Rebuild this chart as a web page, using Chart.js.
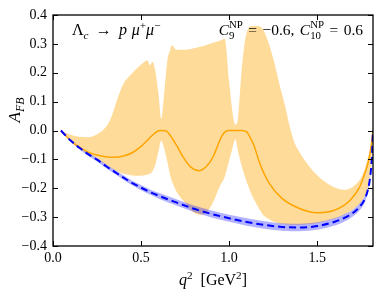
<!DOCTYPE html>
<html lang="en">
  <head>
    <meta charset="UTF-8" />
    <title>A_FB Lambda_c</title>
    <script src="https://cdn.jsdelivr.net/npm/chart.js"></script>
    <style>
      body { margin: 0; background: #fff; }
    </style>
  </head>
  <body>
    <canvas id="afbChart" width="382" height="297"></canvas>

    <script>
      // SM curve (blue, dashed) with its thin uncertainty band
      const qBlue = [0.045, 0.1, 0.15, 0.2, 0.25, 0.3, 0.35, 0.4, 0.45, 0.5, 0.55, 0.6, 0.7, 0.8, 0.9, 1.0, 1.1, 1.2, 1.3, 1.4, 1.5, 1.6, 1.65, 1.7, 1.74, 1.77, 1.79, 1.8, 1.81, 1.817];
      const blueCentral = [0, -0.035, -0.06, -0.082, -0.101, -0.123, -0.143, -0.163, -0.182, -0.198, -0.213, -0.226, -0.249, -0.271, -0.289, -0.304, -0.317, -0.327, -0.334, -0.336, -0.331, -0.316, -0.304, -0.287, -0.265, -0.238, -0.2, -0.165, -0.1, 0];
      const blueUpper = [0, -0.031, -0.055, -0.076, -0.095, -0.116, -0.136, -0.155, -0.174, -0.189, -0.204, -0.216, -0.238, -0.26, -0.277, -0.292, -0.304, -0.314, -0.321, -0.323, -0.318, -0.303, -0.291, -0.275, -0.253, -0.227, -0.19, -0.156, -0.094, 0];
      const blueLower = [0, -0.039, -0.065, -0.088, -0.107, -0.13, -0.15, -0.171, -0.19, -0.207, -0.222, -0.236, -0.26, -0.282, -0.301, -0.316, -0.33, -0.34, -0.347, -0.349, -0.344, -0.329, -0.317, -0.299, -0.277, -0.249, -0.21, -0.174, -0.106, 0];

      // NP curve (orange) and its wide band
      const qOrange = [0.045, 0.1, 0.15, 0.2, 0.25, 0.3, 0.35, 0.4, 0.45, 0.5, 0.55, 0.58, 0.6, 0.615, 0.64, 0.66, 0.7, 0.74, 0.78, 0.83, 0.87, 0.91, 0.94, 0.96, 0.98, 1.0, 1.035, 1.07, 1.1, 1.12, 1.14, 1.175, 1.23, 1.3, 1.4, 1.5, 1.59, 1.65, 1.69, 1.74, 1.77, 1.79, 1.805, 1.817];
      const orangeCentral = [0, -0.035, -0.058, -0.075, -0.085, -0.091, -0.093, -0.088, -0.077, -0.055, -0.025, -0.008, -0.001, 0, -0.001, -0.012, -0.05, -0.093, -0.125, -0.139, -0.125, -0.09, -0.045, -0.018, -0.003, 0, 0, 0, -0.005, -0.025, -0.05, -0.115, -0.185, -0.235, -0.27, -0.285, -0.278, -0.26, -0.24, -0.197, -0.15, -0.11, -0.06, 0];

      const qBand = [0.045, 0.1, 0.15, 0.2, 0.25, 0.3, 0.33, 0.36, 0.4, 0.44, 0.48, 0.52, 0.535, 0.55, 0.565, 0.58, 0.6, 0.615, 0.63, 0.65, 0.665, 0.675, 0.7, 0.75, 0.8, 0.85, 0.9, 0.95, 0.975, 1.0, 1.02, 1.035, 1.05, 1.07, 1.09, 1.11, 1.13, 1.16, 1.19, 1.22, 1.25, 1.29, 1.32, 1.345, 1.37, 1.4, 1.45, 1.5, 1.55, 1.6, 1.66, 1.72, 1.76, 1.79, 1.805, 1.817];
      const orangeUpper = [0, -0.015, -0.022, -0.023, -0.013, 0.012, 0.045, 0.1, 0.162, 0.192, 0.217, 0.238, 0.243, 0.226, 0.238, 0.21, 0.12, 0.04, 0.12, 0.245, 0.278, 0.295, 0.28, 0.28, 0.285, 0.292, 0.302, 0.312, 0.318, 0.17, 0.06, 0.02, 0.04, 0.2, 0.31, 0.355, 0.362, 0.362, 0.352, 0.31, 0.25, 0.15, 0.08, 0.012, -0.04, -0.075, -0.12, -0.155, -0.18, -0.197, -0.205, -0.186, -0.15, -0.09, -0.05, 0];
      const orangeLower = [0, -0.03, -0.055, -0.078, -0.098, -0.118, -0.13, -0.14, -0.15, -0.155, -0.157, -0.155, -0.153, -0.15, -0.14, -0.12, -0.07, -0.035, -0.06, -0.11, -0.155, -0.175, -0.21, -0.25, -0.285, -0.292, -0.26, -0.19, -0.16, -0.105, -0.06, -0.03, -0.07, -0.12, -0.16, -0.195, -0.225, -0.26, -0.29, -0.305, -0.315, -0.322, -0.325, -0.326, -0.326, -0.326, -0.324, -0.32, -0.313, -0.305, -0.289, -0.265, -0.238, -0.19, -0.12, 0];

      const xTicks = [0, 0.5, 1.0, 1.5];
      const yTicks = [-0.4, -0.3, -0.2, -0.1, 0, 0.1, 0.2, 0.3, 0.4];

      const pts = (xs, ys) => xs.map((x, i) => ({ x: x, y: ys[i] }));
      const fmt = (v) => (v < -1e-9 ? '\u2212' : '') + Math.abs(v).toFixed(1);
      const serif = '"Liberation Serif", "DejaVu Serif", serif';

      function fontFor(size, italic) {
        return (italic ? 'italic ' : '') + size + 'px ' + serif;
      }

      // small helper for text with sub/superscripts
      function drawRich(ctx, parts, x, y, size, align) {
        let cx = 0, lastStart = 0;
        const ops = [];
        for (const p of parts) {
          if (p.gap) { cx += p.gap * size; continue; }
          const fs = size * (p.sc || 1);
          ctx.font = fontFor(fs, p.it);
          const w = ctx.measureText(p.t).width;
          const start = p.stack ? lastStart : cx;
          ops.push({ t: p.t, font: ctx.font, x: start, dy: (p.dy || 0) * size });
          if (p.stack) cx = Math.max(cx, start + w);
          else { lastStart = start; cx = start + w; }
        }
        const x0 = align === 'right' ? x - cx : align === 'center' ? x - cx / 2 : x;
        ctx.textBaseline = 'alphabetic';
        ctx.textAlign = 'left';
        for (const o of ops) {
          ctx.font = o.font;
          ctx.fillText(o.t, x0 + o.x, y + o.dy);
        }
      }

      const decor = {
        id: 'decor',
        afterDraw(chart) {
          const ctx = chart.ctx;
          const a = chart.chartArea;
          const xs = chart.scales.x, ys = chart.scales.y;
          ctx.save();
          ctx.strokeStyle = '#000';
          ctx.lineWidth = 1;
          ctx.beginPath();
          xTicks.forEach((v) => {
            const px = Math.round(xs.getPixelForValue(v)) + 0.5;
            ctx.moveTo(px, a.bottom); ctx.lineTo(px, a.bottom - 5);
            ctx.moveTo(px, a.top); ctx.lineTo(px, a.top + 5);
          });
          yTicks.forEach((v) => {
            const py = Math.round(ys.getPixelForValue(v)) + 0.5;
            ctx.moveTo(a.left, py); ctx.lineTo(a.left + 5, py);
            ctx.moveTo(a.right, py); ctx.lineTo(a.right - 5, py);
          });
          ctx.stroke();
          ctx.lineWidth = 1.3;
          ctx.strokeRect(a.left, a.top, a.right - a.left, a.bottom - a.top);

          ctx.fillStyle = '#000';
          drawRich(ctx, [
            { t: '\u039b' }, { t: 'c', it: 1, sc: 0.7, dy: 0.22 }, { gap: 0.45 },
            { t: '\u2192' }, { gap: 0.45 }, { t: 'p', it: 1 }, { gap: 0.3 },
            { t: '\u03bc', it: 1 }, { t: '+', sc: 0.7, dy: -0.4 },
            { t: '\u03bc', it: 1 }, { t: '\u2212', sc: 0.7, dy: -0.4 }
          ], 72, 35, 16, 'left');

          drawRich(ctx, [
            { t: 'C', it: 1 }, { t: 'NP', sc: 0.7, dy: -0.42 }, { t: '9', sc: 0.7, dy: 0.28, stack: 1 },
            { gap: 0.35 }, { t: '=' }, { gap: 0.35 }, { t: '\u22120.6,' }, { gap: 0.35 },
            { t: 'C', it: 1 }, { t: 'NP', sc: 0.7, dy: -0.42 }, { t: '10', sc: 0.7, dy: 0.28, stack: 1 },
            { gap: 0.35 }, { t: '=' }, { gap: 0.35 }, { t: '0.6' }
          ], 363, 35, 15.5, 'right');

          drawRich(ctx, [
            { t: 'q', it: 1 }, { t: '2', sc: 0.7, dy: -0.4 }, { gap: 0.5 },
            { t: '[GeV' }, { t: '2', sc: 0.7, dy: -0.4 }, { t: ']' }
          ], (a.left + a.right) / 2, 285, 16, 'center');

          ctx.translate(20, 110);
          ctx.rotate(-Math.PI / 2);
          drawRich(ctx, [{ t: 'A', it: 1 }, { t: 'FB', it: 1, sc: 0.7, dy: 0.22 }], 0, 0, 17, 'center');
          ctx.restore();
        }
      };

      const ctx = document.getElementById('afbChart').getContext('2d');
      new Chart(ctx, {
        type: 'line',
        data: {
          datasets: [
            {
              label: 'SM',
              data: pts(qBlue, blueCentral),
              borderColor: '#0000ff',
              borderWidth: 2,
              borderDash: [7, 4],
              pointRadius: 0,
              fill: false,
              order: 0,
            },
            {
              label: 'NP',
              data: pts(qOrange, orangeCentral),
              borderColor: '#ffa500',
              borderWidth: 1.5,
              pointRadius: 0,
              fill: false,
              order: 1,
            },
            {
              label: 'SM upper',
              data: pts(qBlue, blueUpper),
              borderWidth: 0,
              borderColor: 'transparent',
              backgroundColor: 'rgba(0, 0, 255, 0.3)',
              pointRadius: 0,
              fill: '+1',
              order: 2,
            },
            {
              label: 'SM lower',
              data: pts(qBlue, blueLower),
              borderWidth: 0,
              borderColor: 'transparent',
              pointRadius: 0,
              fill: false,
              order: 3,
            },
            {
              label: 'NP upper',
              data: pts(qBand, orangeUpper),
              borderWidth: 0,
              borderColor: 'transparent',
              backgroundColor: 'rgba(255, 165, 0, 0.4)',
              pointRadius: 0,
              fill: '+1',
              order: 4,
            },
            {
              label: 'NP lower',
              data: pts(qBand, orangeLower),
              borderWidth: 0,
              borderColor: 'transparent',
              pointRadius: 0,
              fill: false,
              order: 5,
            },
          ],
        },
        options: {
          responsive: false,
          animation: false,
          events: [],
          cubicInterpolationMode: 'monotone',
          layout: { padding: { top: 15, right: 9, left: 0, bottom: 0 } },
          plugins: { legend: { display: false }, tooltip: { enabled: false } },
          scales: {
            x: {
              type: 'linear',
              min: 0,
              max: 1.817,
              afterBuildTicks: (s) => { s.ticks = xTicks.map((v) => ({ value: v })); },
              afterFit: (s) => { s.height = 51; },
              grid: { display: false, drawTicks: false },
              border: { display: false },
              ticks: { color: '#000', padding: 4, maxRotation: 0, font: { family: serif, size: 14 }, callback: (v) => fmt(v) },
            },
            y: {
              type: 'linear',
              min: -0.4,
              max: 0.4,
              afterBuildTicks: (s) => { s.ticks = yTicks.map((v) => ({ value: v })); },
              afterFit: (s) => { s.width = 53; },
              grid: { display: false, drawTicks: false },
              border: { display: false },
              ticks: { color: '#000', padding: 6, font: { family: serif, size: 14 }, callback: (v) => fmt(v) },
            },
          },
        },
        plugins: [decor],
      });
    </script>
  </body>
</html>
